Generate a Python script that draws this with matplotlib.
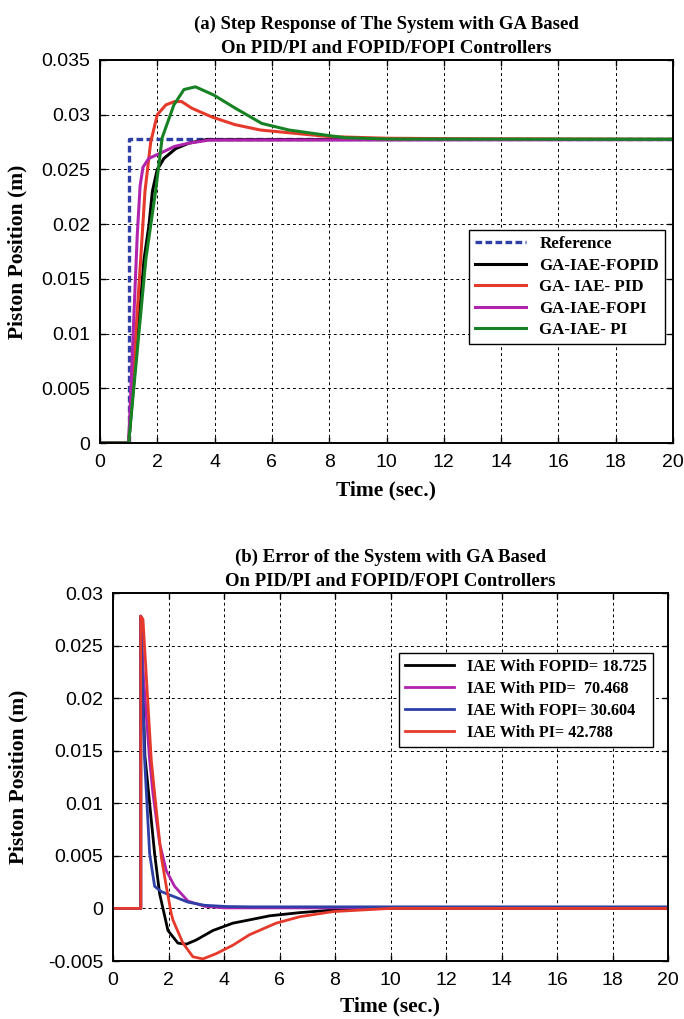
import matplotlib
matplotlib.use('Agg')
import matplotlib.pyplot as plt

# ---- data ----
# (a) step response, piston position (m)
t_ref = [0, 1, 1, 20]
y_ref = [0, 0, 0.02775, 0.02775]

t_fopid = [0, 1, 1.54, 1.71, 1.83, 2.0, 2.23, 2.64, 3.1, 3.7, 20]
y_fopid = [0, 0, 0.0168, 0.0199, 0.023, 0.025, 0.026, 0.0269, 0.0274, 0.02772, 0.02775]

t_pid = [0, 1, 1.42, 1.57, 1.77, 2.0, 2.3, 2.6, 2.85, 3.2, 3.9, 4.7, 5.6, 6.8, 8.0, 10.0, 13.0, 20]
y_pid = [0, 0, 0.0168, 0.023, 0.0275, 0.030, 0.0309, 0.0312, 0.0312, 0.0306, 0.0298, 0.0291,
         0.0286, 0.0283, 0.0280, 0.02785, 0.0278, 0.02775]

t_fopi = [0, 1, 1.3, 1.4, 1.5, 1.7, 2.2, 2.6, 3.1, 3.8, 20]
y_fopi = [0, 0, 0.019, 0.0235, 0.0252, 0.026, 0.0266, 0.0271, 0.0274, 0.02768, 0.02772]

t_pi = [0, 1, 1.6, 1.77, 1.94, 2.17, 2.58, 2.93, 3.33, 3.97, 4.72, 5.65, 6.6, 7.97, 8.55, 10.0, 20]
y_pi = [0, 0, 0.0168, 0.0199, 0.023, 0.0279, 0.0309, 0.0323, 0.03255, 0.0318, 0.0306, 0.0292,
        0.0286, 0.0281, 0.0279, 0.02778, 0.02775]

# (b) error curves
te_fopid = [0, 1, 1, 1.15, 1.32, 1.5, 1.68, 1.8, 1.98, 2.34, 2.64, 3.0, 3.6, 4.32, 4.9, 5.65,
            6.73, 7.9, 9.5, 20]
e_fopid = [0, 0, 0.0278, 0.0145, 0.010, 0.0052, 0.0014, 0, -0.0021, -0.0033, -0.0034, -0.003,
           -0.0021, -0.0014, -0.0011, -0.0007, -0.0004, -0.00016, 0, 0]

te_pid = [0, 1, 1, 1.1, 1.32, 1.44, 1.68, 1.92, 2.22, 2.7, 3.3, 4.0, 20]
e_pid = [0, 0, 0.0278, 0.022, 0.0141, 0.0109, 0.0062, 0.0036, 0.0021, 0.0007, 0.0002, 0.00005, 0.00005]

te_fopi = [0, 1, 1, 1.14, 1.32, 1.5, 1.74, 2.22, 2.7, 3.3, 4.1, 5.0, 20]
e_fopi = [0, 0, 0.0278, 0.0141, 0.0052, 0.0021, 0.0016, 0.0011, 0.0006, 0.0003, 0.00018, 0.00015, 0.00015]

te_pi = [0, 1, 1, 1.08, 1.38, 1.56, 1.74, 1.92, 2.1, 2.16, 2.52, 2.88, 3.24, 3.72, 4.32, 4.92,
         5.88, 6.73, 7.93, 10.0, 20]
e_pi = [0, 0, 0.0278, 0.0275, 0.0141, 0.0094, 0.0049, 0.0021, -0.0005, -0.0011, -0.0033, -0.0046,
        -0.0048, -0.0043, -0.0035, -0.0025, -0.0014, -0.00079, -0.0003, 0, 0]

x_ticks = [0, 2, 4, 6, 8, 10, 12, 14, 16, 18, 20]
y_ticks_a = [0, 0.005, 0.01, 0.015, 0.02, 0.025, 0.03, 0.035]
y_labels_a = ['0', '0.005', '0.01', '0.015', '0.02', '0.025', '0.03', '0.035']
y_ticks_b = [-0.005, 0, 0.005, 0.01, 0.015, 0.02, 0.025, 0.03]
y_labels_b = ['-0.005', '0', '0.005', '0.01', '0.015', '0.02', '0.025', '0.03']

legend_a = ['Reference', 'GA-IAE-FOPID', 'GA- IAE- PID', 'GA-IAE-FOPI', 'GA-IAE- PI']
legend_b = ['IAE With FOPID= 18.725', 'IAE With PID=  70.468', 'IAE With FOPI= 30.604',
            'IAE With PI= 42.788']

title_a = '(a) Step Response of The System with GA Based\nOn PID/PI and FOPID/FOPI Controllers'
title_b = '(b) Error of the System with GA Based\nOn PID/PI and FOPID/FOPI Controllers'

# ---- styling ----
plt.rcParams['font.family'] = 'Liberation Sans'
serif_bold = dict(family='Liberation Serif', weight='bold')
BLUE = '#2e3fa6'
RED = '#e53a2b'
MAG = '#b024ad'
GREEN = '#178224'

fig = plt.figure(figsize=(6.84, 10.19), dpi=100)
ax1 = fig.add_axes([100 / 684, 1 - 443 / 1019, 573 / 684, 383 / 1019])
ax2 = fig.add_axes([113 / 684, 1 - 961 / 1019, 555 / 684, 368 / 1019])


def style(ax, yticks, ylabels, ylim, title, label_x, xpad):
    ax.set_xlim(0, 20)
    ax.set_ylim(*ylim)
    ax.set_xticks(x_ticks)
    ax.set_yticks(yticks)
    ax.set_yticklabels(ylabels)
    ax.tick_params(direction='in', labelsize=14, top=True, right=True, length=4, width=1)
    ax.tick_params(axis='y', pad=7)
    ax.tick_params(axis='x', pad=8)
    ax.grid(True, color='k', linestyle=(0, (3, 3)), linewidth=0.7)
    for s in ax.spines.values():
        s.set_linewidth(1.4)
    ax.set_title(title, fontsize=13.5, pad=5, linespacing=1.55, **serif_bold)
    ax.set_xlabel('Time (sec.)', fontsize=15.5, labelpad=xpad, **serif_bold)
    ax.set_ylabel('Piston Position (m)', fontsize=15.5, **serif_bold)
    ax.yaxis.set_label_coords(label_x, 0.5)


# (a)
ax1.plot(t_ref, y_ref, color=BLUE, lw=2.4, linestyle=(0, (2, 1)), label=legend_a[0])
ax1.plot(t_fopid, y_fopid, color='k', lw=2.2, label=legend_a[1])
ax1.plot(t_pid, y_pid, color=RED, lw=2.2, label=legend_a[2])
ax1.plot(t_fopi, y_fopi, color=MAG, lw=2.2, label=legend_a[3])
ax1.plot(t_pi, y_pi, color=GREEN, lw=2.2, label=legend_a[4])
style(ax1, y_ticks_a, y_labels_a, (0, 0.035), title_a, -0.126, 7)
leg1 = ax1.legend(loc='upper right', bbox_to_anchor=(0.986, 0.556), borderaxespad=0,
                  fancybox=False, framealpha=1, edgecolor='k', handlelength=3.0,
                  labelspacing=0.33, borderpad=0.35,
                  prop=dict(family='Liberation Serif', weight='bold', size=12.2))
leg1.get_frame().set_linewidth(1.0)

# (b)
ax2.plot(te_fopid, e_fopid, color='k', lw=2.0, label=legend_b[0])
ax2.plot(te_pid, e_pid, color=MAG, lw=2.0, label=legend_b[1])
ax2.plot(te_fopi, e_fopi, color=BLUE, lw=2.0, label=legend_b[2])
ax2.plot(te_pi, e_pi, color=RED, lw=2.0, label=legend_b[3])
style(ax2, y_ticks_b, y_labels_b, (-0.005, 0.03), title_b, -0.153, 5)
leg2 = ax2.legend(loc='upper right', bbox_to_anchor=(0.973, 0.837), borderaxespad=0,
                  fancybox=False, framealpha=1, edgecolor='k', handlelength=3.0,
                  labelspacing=0.36, borderpad=0.38,
                  prop=dict(family='Liberation Serif', weight='bold', size=11.7))
leg2.get_frame().set_linewidth(1.0)

fig.savefig('out.png', dpi=100)
